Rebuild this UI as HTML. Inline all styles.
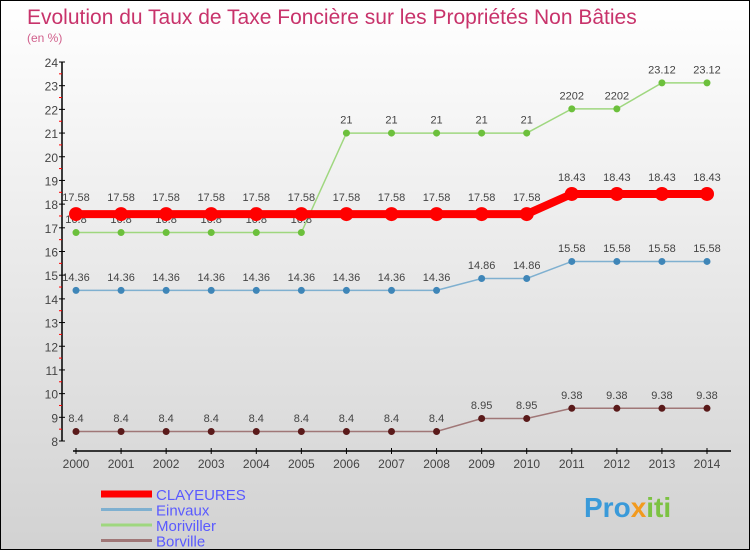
<!DOCTYPE html>
<html><head><meta charset="utf-8"><style>
body{margin:0}
#c{width:748px;height:548px;border:1px solid #000;background:linear-gradient(#ffffff,#d2d2d2);position:relative;overflow:hidden;font-family:"Liberation Sans",sans-serif}
</style></head><body>
<div id="c">
<svg id="s" width="748" height="548" xmlns="http://www.w3.org/2000/svg">
<text x="26" y="23" font-size="21" fill="#c8336b">Evolution du Taux de Taxe Foncière sur les Propriétés Non Bâties</text>
<text x="26" y="41" font-size="12" fill="#d1608c">(en %)</text>
<g id="g"></g>
<text x="583" y="516" font-size="28" font-weight="bold" fill="#3a9ad9">Pro<tspan fill="#f29a1e">x</tspan><tspan fill="#7cc242">iti</tspan></text>
</svg>
</div>
<script>
const years=[2000,2001,2002,2003,2004,2005,2006,2007,2008,2009,2010,2011,2012,2013,2014];
const clayeures=[17.58,17.58,17.58,17.58,17.58,17.58,17.58,17.58,17.58,17.58,17.58,18.43,18.43,18.43,18.43];
const einvaux=[14.36,14.36,14.36,14.36,14.36,14.36,14.36,14.36,14.36,14.86,14.86,15.58,15.58,15.58,15.58];
const moriviller=[16.8,16.8,16.8,16.8,16.8,16.8,21,21,21,21,21,22.02,22.02,23.12,23.12];
const borville=[8.4,8.4,8.4,8.4,8.4,8.4,8.4,8.4,8.4,8.95,8.95,9.38,9.38,9.38,9.38];
const yTicks=[8,9,10,11,12,13,14,15,16,17,18,19,20,21,22,23,24];
const labelsC=["17.58","17.58","17.58","17.58","17.58","17.58","17.58","17.58","17.58","17.58","17.58","18.43","18.43","18.43","18.43"];
const labelsE=["14.36","14.36","14.36","14.36","14.36","14.36","14.36","14.36","14.36","14.86","14.86","15.58","15.58","15.58","15.58"];
const labelsM=["16.8","16.8","16.8","16.8","16.8","16.8","21","21","21","21","21","2202","2202","23.12","23.12"];
const labelsB=["8.4","8.4","8.4","8.4","8.4","8.4","8.4","8.4","8.4","8.95","8.95","9.38","9.38","9.38","9.38"];
const NS="http://www.w3.org/2000/svg";
const g=document.getElementById('g');
const X=i=>75+i*(631/14);
const Y=v=>440-(v-8)*(379/16);
function mk(t,a,p){const e=document.createElementNS(NS,t);for(const k in a)e.setAttribute(k,a[k]);(p||g).appendChild(e);return e;}
// y axis
let ax=mk('line',{x1:61,y1:61,x2:61,y2:440,stroke:'#000','stroke-width':1.5});


yTicks.forEach(v=>{
 mk('line',{x1:58,y1:Y(v),x2:64,y2:Y(v),stroke:'#000'});
 if(v<24) mk('line',{x1:58,y1:Y(v+0.5),x2:61,y2:Y(v+0.5),stroke:'#f00'});
 let t=mk('text',{x:57,y:Y(v)+5,'text-anchor':'end','font-size':12,fill:'#444'});t.textContent=v;
 
 
});
let xa=mk('line',{x1:72,y1:450,x2:730,y2:450,stroke:'#000','stroke-width':1.5});


years.forEach((y,i)=>{
 mk('line',{x1:X(i),y1:447,x2:X(i),y2:453,stroke:'#000'});
 let t=mk('text',{x:X(i),y:467,'text-anchor':'middle','font-size':12,fill:'#444'});t.textContent=y;
 
 
});
function series(vals,labels,line,dot,lw,r,name){
 const s=mk('g',{});
 
 
 mk('polyline',{points:vals.map((v,i)=>X(i)+','+Y(v)).join(' '),fill:'none',stroke:line,'stroke-width':lw},s);
 vals.forEach((v,i)=>{
  const c=mk('circle',{cx:X(i),cy:Y(v),r:r,fill:dot},s);
  
  
  const t=mk('text',{x:X(i),y:Y(v)-r-6,'text-anchor':'middle','font-size':11,fill:'#444'},s);t.textContent=labels[i];
 });
}
series(borville,labelsB,'#a07777','#5a1a1a',1.5,3.5,'borville');
series(einvaux,labelsE,'#7fb0d0','#3f86b8',1.5,3.5,'einvaux');
series(moriviller,labelsM,'#9fd77f','#6cc03c',1.5,3.5,'moriviller');
series(clayeures,labelsC,'#f00','#f00',8,7,'clayeures');
// legend
const leg=[['CLAYEURES','#f00',7],['Einvaux','#7fb0d0',3],['Moriviller','#9fd77f',3],['Borville','#a07777',3]];
leg.forEach((l,i)=>{
 const y=493+i*15.5;
 const e=mk('line',{x1:100,y1:y,x2:151,y2:y,stroke:l[1],'stroke-width':l[2]});
 
 
 const t=mk('text',{x:155,y:y+6,'font-size':15,fill:'#5a5aff'});t.textContent=l[0];
 
 
});
</script>
</body></html>
